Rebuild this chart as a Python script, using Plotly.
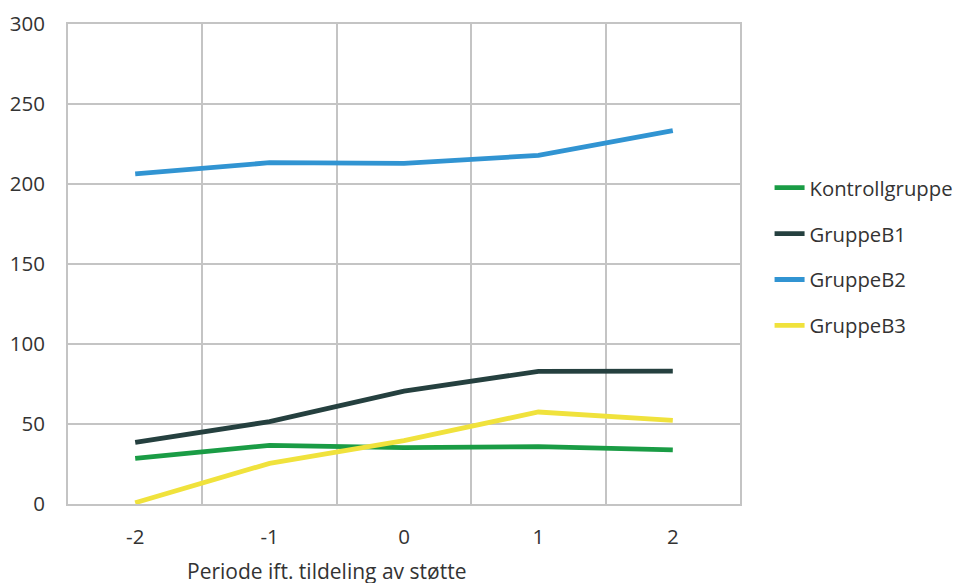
import plotly.graph_objects as go

periods = ["-2", "-1", "0", "1", "2"]
kontroll = [28.5, 36.7, 35.2, 35.8, 33.8]
gruppe_b1 = [38.5, 51.5, 70.6, 82.9, 83.0]
gruppe_b2 = [206.3, 213.3, 212.9, 217.9, 233.3]
gruppe_b3 = [0.8, 25.4, 39.6, 57.5, 52.3]
y_ticks = [0, 50, 100, 150, 200, 250, 300]

series = [
    ("Kontrollgruppe", kontroll, "#1a9c45"),
    ("GruppeB1", gruppe_b1, "#25403f"),
    ("GruppeB2", gruppe_b2, "#3194d2"),
    ("GruppeB3", gruppe_b3, "#f0e23c"),
]

fig = go.Figure()
for name, vals, col in series:
    fig.add_trace(go.Scatter(
        x=periods, y=vals, name=name, mode="lines",
        line=dict(color=col, width=4.8), legendgroup=name,
    ))

grid = "#c4c4c4"
fs = 21
# page body has an 8px margin, so the figure is placed at (8, 8)
fig.update_layout(
    width=957, height=575,
    margin=dict(l=60, r=225, t=16, b=79, autoexpand=False),
    paper_bgcolor="white", plot_bgcolor="white",
    font=dict(family="Open Sans", size=fs, color="#333333"),
    showlegend=True,
    legend=dict(x=1.044, y=0.70, xanchor="left", yanchor="top",
                tracegroupgap=16.5, font=dict(size=20.3, color="#333333"),
                bgcolor="rgba(0,0,0,0)"),
    xaxis=dict(type="category", tickson="boundaries", showgrid=True,
               range=[-0.5, 4.5], tickfont=dict(size=20.5),
               gridcolor=grid, gridwidth=2, showline=True, linecolor=grid,
               linewidth=2, mirror=True, ticks="", ticklabelstandoff=13,
               zeroline=False),
    yaxis=dict(range=[0, 300], tickvals=y_ticks, showgrid=True,
               tickfont=dict(size=20.5),
               gridcolor=grid, gridwidth=2, showline=True, linecolor=grid,
               linewidth=2, mirror=True, ticks="", ticklabelstandoff=17,
               zeroline=False),
    annotations=[dict(text="Periode ift. tildeling av støtte", xref="paper",
                      yref="paper", x=(326 - 68) / 672, y=-(571 - 504) / 480,
                      xanchor="center", yanchor="middle", showarrow=False,
                      font=dict(size=fs, color="#333333"))],
)

fig.write_html("out.html")
